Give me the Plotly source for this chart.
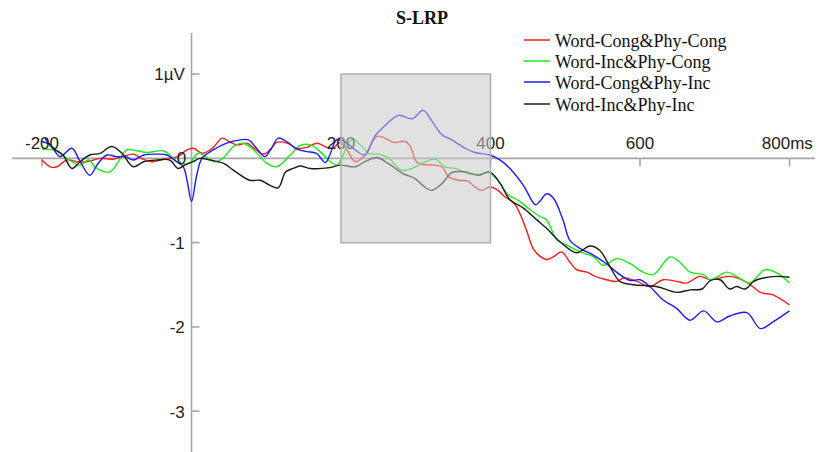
import plotly.graph_objects as go

# ---- data (ms, µV) ----
red_t = [-200, -189, -180, -167, -153, -140, -122, -105, -92, -78, -65, -52, -38, -19, -6, 2, 15, 29, 41, 52, 61, 74, 82, 96, 105, 114, 128, 141, 154, 168, 181, 189, 199, 208, 219, 232, 248, 259, 270, 286, 292, 301, 308, 326, 335, 344, 357, 370, 379, 388, 399, 410, 417, 431, 439, 448, 457, 466, 475, 484, 495, 506, 515, 529, 540, 555, 569, 578, 596, 613, 631, 649, 662, 680, 694, 720, 743, 761, 778, 800]
red_v = [-0.02, -0.10, -0.10, -0.02, -0.04, -0.04, 0.00, -0.01, 0.02, 0.05, -0.01, -0.04, -0.01, 0.02, 0.10, 0.12, 0.06, 0.13, 0.24, 0.19, 0.16, 0.18, 0.13, 0.05, 0.10, 0.19, 0.18, 0.12, 0.13, 0.18, 0.13, 0.12, 0.19, 0.10, -0.04, 0.04, 0.26, 0.24, 0.19, 0.20, 0.15, -0.04, -0.07, -0.08, -0.10, -0.22, -0.26, -0.27, -0.34, -0.38, -0.34, -0.38, -0.44, -0.53, -0.65, -0.85, -1.07, -1.16, -1.20, -1.17, -1.11, -1.23, -1.32, -1.35, -1.40, -1.44, -1.46, -1.42, -1.46, -1.52, -1.44, -1.46, -1.48, -1.40, -1.44, -1.40, -1.47, -1.59, -1.62, -1.74]

green_t = [-200, -180, -167, -149, -138, -127, -109, -98, -87, -73, -60, -38, -29, -15, -2, 7, 11, 31, 42, 56, 69, 83, 101, 114, 132, 145, 159, 172, 186, 194, 201, 210, 216, 228, 237, 250, 263, 281, 295, 308, 326, 339, 353, 370, 384, 397, 410, 422, 439, 453, 466, 475, 489, 502, 520, 538, 551, 569, 587, 604, 618, 640, 653, 667, 685, 694, 716, 729, 747, 767, 783, 800]
green_v = [0.11, 0.09, 0.00, -0.08, -0.02, -0.12, -0.16, -0.04, 0.10, 0.09, 0.07, 0.09, 0.04, -0.06, -0.05, 0.05, 0.06, -0.04, 0.00, 0.14, 0.18, 0.10, -0.06, -0.10, 0.04, 0.15, 0.16, 0.08, -0.04, -0.08, 0.00, 0.18, 0.23, 0.14, 0.06, 0.05, 0.01, -0.14, -0.12, -0.06, -0.01, -0.10, -0.12, -0.18, -0.19, -0.17, -0.26, -0.42, -0.51, -0.61, -0.69, -0.73, -0.97, -1.03, -1.11, -1.17, -1.27, -1.19, -1.25, -1.35, -1.38, -1.17, -1.23, -1.35, -1.38, -1.44, -1.35, -1.40, -1.48, -1.32, -1.36, -1.48]

blue_t = [-200, -189, -176, -160, -149, -136, -125, -113, -100, -88, -78, -64, -47, -33, -20, -11, -6, 0, 7, 14, 29, 47, 60, 76, 87, 98, 107, 116, 127, 141, 154, 167, 179, 185, 194, 205, 219, 232, 245, 259, 277, 295, 310, 321, 335, 348, 366, 379, 399, 413, 426, 444, 460, 466, 475, 484, 497, 506, 520, 538, 555, 573, 587, 600, 613, 631, 649, 667, 685, 703, 720, 743, 761, 778, 800]
blue_v = [0.20, 0.16, 0.02, 0.12, -0.04, -0.20, -0.06, 0.04, 0.02, 0.02, -0.02, 0.04, 0.05, 0.04, -0.04, -0.10, -0.26, -0.51, -0.20, 0.00, 0.10, 0.18, 0.21, 0.22, 0.12, 0.02, 0.12, 0.24, 0.20, 0.11, 0.08, 0.06, -0.05, 0.04, 0.22, 0.20, 0.10, 0.04, 0.26, 0.39, 0.51, 0.47, 0.57, 0.45, 0.28, 0.22, 0.12, 0.07, 0.04, -0.02, -0.12, -0.32, -0.55, -0.51, -0.42, -0.47, -0.73, -0.97, -1.07, -1.15, -1.25, -1.38, -1.45, -1.44, -1.52, -1.68, -1.78, -1.92, -1.81, -1.94, -1.87, -1.83, -2.02, -1.94, -1.81]

black_t = [-196, -185, -172, -160, -149, -136, -122, -107, -93, -78, -64, -47, -29, -18, -9, 2, 11, 25, 43, 56, 78, 92, 105, 116, 126, 136, 145, 159, 185, 199, 219, 232, 248, 263, 283, 299, 312, 321, 335, 348, 366, 384, 399, 413, 426, 444, 462, 475, 493, 515, 533, 546, 560, 573, 591, 622, 649, 667, 683, 694, 707, 720, 729, 741, 752, 765, 783, 800]
black_v = [0.24, 0.12, 0.04, -0.12, -0.04, 0.04, 0.06, 0.14, 0.06, -0.10, -0.04, -0.02, -0.02, -0.12, -0.08, -0.04, 0.00, -0.02, -0.06, -0.14, -0.26, -0.26, -0.32, -0.35, -0.16, -0.12, -0.09, -0.12, -0.11, -0.08, -0.10, -0.04, 0.01, -0.06, -0.18, -0.24, -0.34, -0.38, -0.30, -0.17, -0.16, -0.20, -0.16, -0.30, -0.49, -0.59, -0.73, -0.83, -0.99, -1.12, -1.04, -1.09, -1.29, -1.46, -1.50, -1.52, -1.59, -1.56, -1.55, -1.45, -1.44, -1.55, -1.52, -1.55, -1.46, -1.42, -1.40, -1.41]

series_names = ["Word-Cong&Phy-Cong", "Word-Inc&Phy-Cong", "Word-Cong&Phy-Inc", "Word-Inc&Phy-Inc"]
series_colors = ["#ff1a1a", "#1aee1a", "#1a1aff", "#1a1a1a"]

x_ticks = [-200, 200, 400, 600, 800]
x_tick_labels = ["-200", "200", "400", "600", "800ms"]
y_ticks = [1, -1, -2, -3]
y_tick_labels = ["1µV", "-1", "-2", "-3"]

window = (200, 400, -1, 1)  # analysis window (ms start, ms end, µV low, µV high)

# ---- layout geometry (page has an 8px body margin) ----
OFF = 8
W, H = 823 - OFF, 452 - OFF
x_range = [-245.5, 844.8]
y_range = [-3.484, 1.784]
px_per_ms = W / (x_range[1] - x_range[0])
px_per_uv = H / (y_range[1] - y_range[0])
tick_x = 8 / px_per_ms
tick_y = 8 / px_per_uv


def px(page_x):
    return (page_x - OFF) / W


def py(page_y):
    return 1 - (page_y - OFF) / H


fig = go.Figure()

for t, v, name, col in zip([red_t, green_t, blue_t, black_t],
                           [red_v, green_v, blue_v, black_v],
                           series_names, series_colors):
    fig.add_trace(go.Scatter(x=t, y=v, mode="lines", name=name, showlegend=False,
                             line=dict(color=col, width=1.4, shape="spline", smoothing=1.0)))

# tick labels as text traces (so the window shading covers them)
lab_font = dict(family="Liberation Sans, Arial", size=17, color="#222222")
fig.add_trace(go.Scatter(x=x_ticks[:-1], y=[0.06] * 4, mode="text",
                         text=x_tick_labels[:-1], textposition="top center",
                         textfont=lab_font, showlegend=False, hoverinfo="skip"))
fig.add_trace(go.Scatter(x=[763], y=[0.06], mode="text",
                         text=[x_tick_labels[-1]], textposition="top right",
                         textfont=lab_font, showlegend=False, hoverinfo="skip"))
fig.add_trace(go.Scatter(x=[-9] * 4, y=[v - 0.025 for v in y_ticks], mode="text",
                         text=y_tick_labels, textposition="middle left",
                         textfont=lab_font, showlegend=False, hoverinfo="skip"))
fig.add_trace(go.Scatter(x=[-7], y=[-0.015], mode="text", text=["0"],
                         textposition="middle left", textfont=lab_font,
                         showlegend=False, hoverinfo="skip"))

axis_col = "#a6a6a6"
shapes = [
    dict(type="line", x0=-240, x1=841, y0=0, y1=0, line=dict(color=axis_col, width=1.6), layer="below"),
    dict(type="line", x0=0, x1=0, y0=1.486, y1=-3.6, line=dict(color=axis_col, width=1.6), layer="below"),
]
for xt in x_ticks:
    shapes.append(dict(type="line", x0=xt, x1=xt, y0=0, y1=-tick_y,
                       line=dict(color=axis_col, width=1.6), layer="below"))
for yt in y_ticks:
    shapes.append(dict(type="line", x0=0, x1=tick_x, y0=yt, y1=yt,
                       line=dict(color=axis_col, width=1.6), layer="below"))
shapes.append(dict(type="rect", x0=window[0], x1=window[1], y0=window[2], y1=window[3],
                   fillcolor="rgba(200,200,200,0.55)", line=dict(color="#b0b0b0", width=1.5),
                   layer="above"))

# legend drawn as line samples + text
annotations = []
leg_rows = [40, 61, 82, 104]
for name, col, row in zip(series_names, series_colors, leg_rows):
    shapes.append(dict(type="line", xref="paper", yref="paper", x0=px(524), x1=px(550),
                       y0=py(row), y1=py(row), line=dict(color=col, width=1.5)))
    annotations.append(dict(xref="paper", yref="paper", x=px(553), y=py(row + 1),
                            xanchor="left", yanchor="middle", showarrow=False, text=name,
                            font=dict(family="Liberation Serif, Times New Roman", size=18, color="#111111")))

fig.update_layout(
    width=W, height=H,
    margin=dict(l=0, r=0, t=0, b=0),
    paper_bgcolor="white", plot_bgcolor="white",
    xaxis=dict(range=x_range, visible=False, fixedrange=True),
    yaxis=dict(range=y_range, visible=False, fixedrange=True),
    shapes=shapes,
    annotations=annotations,
    title=dict(text="<b>S-LRP</b>", x=px(422), xanchor="center", y=py(18), yanchor="middle",
               font=dict(family="Liberation Serif, Times New Roman", size=18, color="#111111")),
    showlegend=False,
)

fig.write_html("out.html")
